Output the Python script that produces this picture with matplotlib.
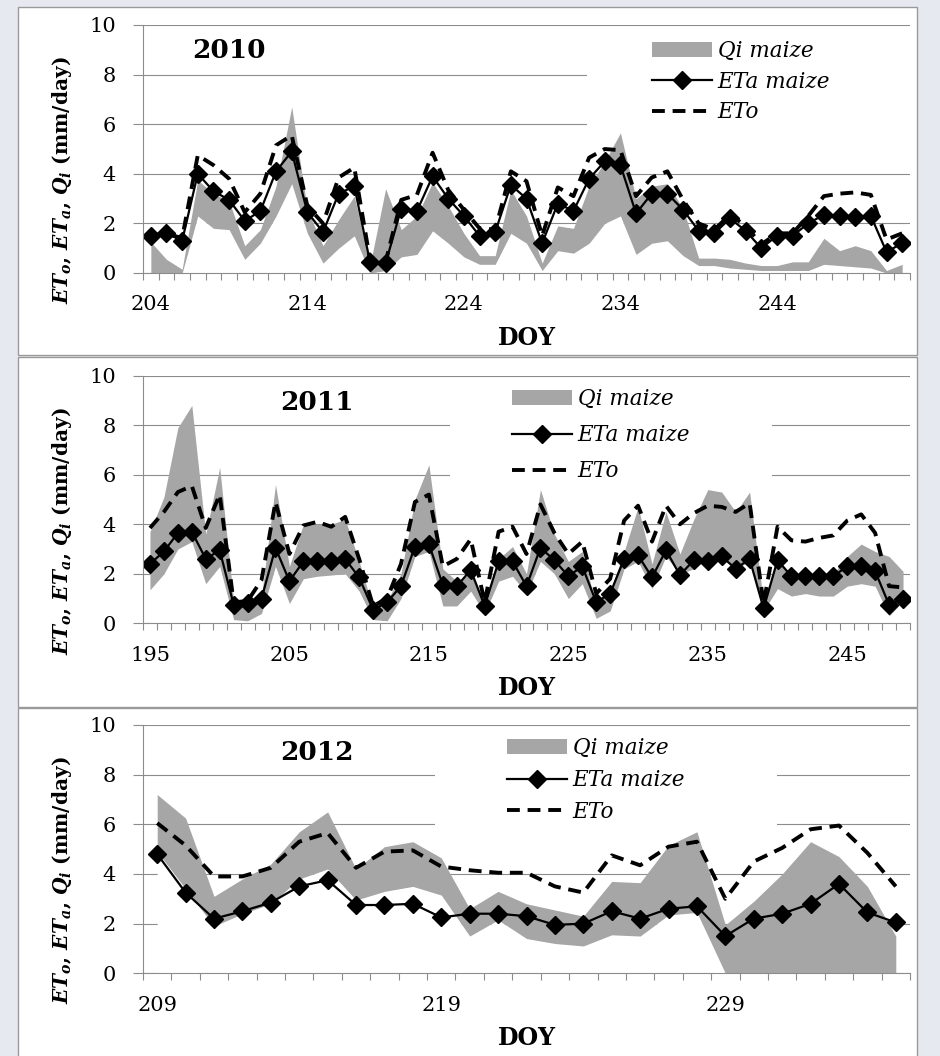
import numpy as np
import matplotlib.pyplot as plt
from matplotlib.patches import Patch, Rectangle
from matplotlib.lines import Line2D

plt.rcParams['font.family'] = 'DejaVu Serif'
plt.rcParams['mathtext.fontset'] = 'custom'
plt.rcParams['mathtext.rm'] = 'DejaVu Serif'
plt.rcParams['mathtext.it'] = 'DejaVu Serif:italic'
plt.rcParams['mathtext.bf'] = 'DejaVu Serif:bold'
plt.rcParams['mathtext.bfit'] = 'DejaVu Serif:italic:bold'

###
# Data, one value per DOY
###

start_2010 = 204
eta_2010 = [1.5, 1.6, 1.3, 4.0, 3.3, 2.95, 2.1, 2.5, 4.1, 4.9, 2.45, 1.65, 3.2, 3.5, 0.45, 0.4,
            2.6, 2.5, 3.9, 3.0, 2.3, 1.5, 1.65, 3.55, 3.0, 1.2, 2.8, 2.5, 3.8, 4.5, 4.35, 2.4,
            3.2, 3.2, 2.55, 1.7, 1.6, 2.2, 1.7, 1.0, 1.5, 1.5, 2.0, 2.35, 2.3, 2.25, 2.3, 0.85, 1.2]
eto_2010 = [1.5, 1.6, 1.4, 4.75, 4.35, 3.8, 2.45, 3.2, 5.15, 5.55, 2.7, 2.0, 3.85, 4.25, 0.55, 0.45,
            2.95, 3.15, 4.85, 3.35, 2.55, 1.8, 1.75, 4.1, 3.7, 1.5, 3.45, 3.1, 4.65, 5.0, 4.95, 3.1,
            3.85, 4.1, 2.95, 2.0, 1.75, 2.35, 1.9, 1.15, 1.6, 1.6, 2.3, 3.1, 3.2, 3.25, 3.15, 1.35, 1.6]
qi_lo_2010 = [0.0, 0.0, 0.0, 2.3, 1.8, 1.75, 0.55, 1.2, 2.3, 3.6, 1.6, 0.4, 1.0, 1.5, 0.0, 0.1,
              0.65, 0.75, 1.7, 1.2, 0.65, 0.35, 0.35, 1.6, 1.2, 0.1, 0.9, 0.8, 1.2, 2.0, 2.3, 0.75,
              1.2, 1.3, 0.7, 0.3, 0.3, 0.2, 0.15, 0.1, 0.1, 0.1, 0.1, 0.35, 0.3, 0.25, 0.2, 0.0, 0.0]
qi_hi_2010 = [1.25, 0.55, 0.15, 3.75, 3.2, 2.9, 1.1, 1.75, 3.5, 6.7, 2.55, 1.1, 2.15, 3.1, 0.3, 3.4,
              1.75, 2.3, 3.65, 2.7, 1.6, 0.7, 0.7, 3.35, 2.3, 0.4, 1.9, 1.8, 3.5, 4.5, 5.65, 3.0,
              3.5, 3.6, 2.6, 0.6, 0.6, 0.55, 0.4, 0.3, 0.3, 0.45, 0.45, 1.4, 0.9, 1.1, 0.9, 0.1, 0.35]

start_2011 = 195
eta_2011 = [2.4, 2.9, 3.65, 3.7, 2.6, 2.95, 0.75, 0.8, 1.0, 3.05, 1.7, 2.5, 2.5, 2.5, 2.6, 1.85,
            0.55, 0.85, 1.5, 3.1, 3.2, 1.55, 1.5, 2.15, 0.7, 2.5, 2.5, 1.5, 3.05, 2.55, 1.9, 2.3,
            0.85, 1.2, 2.6, 2.75, 1.85, 2.95, 1.95, 2.55, 2.5, 2.7, 2.2, 2.6, 0.6, 2.55, 1.9, 1.9,
            1.9, 1.9, 2.3, 2.3, 2.1, 0.75, 1.0]
eto_2011 = [3.85, 4.5, 5.3, 5.55, 3.85, 5.2, 0.85, 0.9, 1.75, 4.9, 2.8, 3.95, 4.1, 3.9, 4.3, 2.6,
            0.7, 1.0, 2.4, 4.9, 5.2, 2.3, 2.6, 3.4, 0.85, 3.7, 3.9, 2.8, 4.8, 3.65, 2.8, 3.3,
            1.2, 1.8, 4.15, 4.75, 3.3, 4.75, 4.0, 4.45, 4.75, 4.7, 4.5, 4.85, 0.8, 3.9, 3.35, 3.3,
            3.45, 3.55, 4.15, 4.4, 3.65, 1.5, 1.45]
qi_lo_2011 = [1.35, 2.0, 3.0, 3.3, 1.6, 2.3, 0.15, 0.1, 0.4, 2.3, 0.8, 1.8, 1.9, 1.95, 2.0, 1.3,
              0.15, 0.1, 1.0, 2.7, 2.9, 0.7, 0.7, 1.3, 0.4, 1.7, 1.9, 1.2, 2.5, 2.0, 1.0, 1.6,
              0.2, 0.5, 2.2, 2.5, 1.4, 2.7, 2.0, 2.2, 2.6, 2.7, 2.2, 2.5, 0.5, 1.4, 1.1, 1.2,
              1.1, 1.1, 1.5, 1.6, 1.5, 0.3, 0.9]
qi_hi_2011 = [3.7, 5.1, 7.9, 8.8, 3.6, 6.3, 0.9, 0.6, 1.1, 5.6, 2.3, 4.0, 4.0, 4.0, 4.2, 2.5,
              0.6, 0.9, 2.0, 5.0, 6.4, 2.2, 1.7, 2.0, 0.9, 2.6, 3.1, 2.0, 5.4, 3.6, 2.5, 2.9,
              0.7, 1.3, 2.9, 4.7, 2.4, 4.5, 2.8, 4.2, 5.4, 5.3, 4.5, 5.3, 0.8, 2.6, 1.9, 1.9,
              1.9, 2.0, 2.7, 3.2, 2.9, 2.7, 2.1]

start_2012 = 209
eta_2012 = [4.8, 3.25, 2.2, 2.5, 2.85, 3.5, 3.75, 2.75, 2.75, 2.8, 2.25, 2.4, 2.4, 2.3, 1.95, 2.0,
            2.5, 2.2, 2.6, 2.7, 1.5, 2.2, 2.4, 2.8, 3.6, 2.45, 2.05]
eto_2012 = [6.05, 5.15, 3.9, 3.9, 4.25, 5.3, 5.65, 4.25, 4.9, 4.95, 4.3, 4.15, 4.05, 4.05, 3.5, 3.25,
            4.75, 4.35, 5.1, 5.3, 3.0, 4.5, 5.05, 5.8, 5.95, 4.85, 3.5]
qi_lo_2012 = [4.9, 3.4, 1.9, 2.4, 2.8, 3.8, 4.2, 2.95, 3.3, 3.5, 3.15, 1.5, 2.15, 1.4, 1.2, 1.1,
              1.55, 1.5, 2.35, 2.45, 0.0, 0.0, 0.0, 0.0, 0.0, 0.0, 0.0]
qi_hi_2012 = [7.2, 6.25, 3.1, 3.8, 4.4, 5.7, 6.5, 4.2, 5.1, 5.3, 4.65, 2.6, 3.3, 2.8, 2.55, 2.3,
              3.7, 3.65, 5.15, 5.7, 1.95, 2.9, 4.0, 5.3, 4.7, 3.5, 1.5]

legend_labels = ['Qi maize', 'ETa maize', 'ETo']
ylabel = r'$\mathbfit{ET_o}$, $\mathbfit{ET_a}$, $\mathbfit{Q_i}$ (mm/day)'

###
# Layout (pixel positions on a 940x1056 canvas)
###

W, H = 940, 1056
GRAY = '#a6a6a6'
AXC = '#8c8c8c'
X0, X1 = 143, 910
MS = 9

panels = [
    dict(year='2010', start=start_2010, eta=eta_2010, eto=eto_2010, lo=qi_lo_2010, hi=qi_hi_2010,
         frame=(18, 7, 917, 355), top=25, bot=273, title=(229, 50),
         leg=(652, 40), spacing=0.40, mask=(587, 28, 910, 140)),
    dict(year='2011', start=start_2011, eta=eta_2011, eto=eto_2011, lo=qi_lo_2011, hi=qi_hi_2011,
         frame=(18, 357, 917, 707), top=375.7, bot=623.3, title=(317, 403),
         leg=(512, 388), spacing=0.66, mask=(450, 378, 772, 500)),
    dict(year='2012', start=start_2012, eta=eta_2012, eto=eto_2012, lo=qi_lo_2012, hi=qi_hi_2012,
         frame=(18, 708, 917, 1060), top=725, bot=973.3, title=(317, 752),
         leg=(507, 737), spacing=0.46, mask=(435, 728, 777, 850)),
]

fig = plt.figure(figsize=(W / 100, H / 100), dpi=100, facecolor='#e6eaf0')

for p in panels:
    fx0, fy0, fx1, fy1 = p['frame']
    fig.add_artist(Rectangle((fx0 / W, 1 - fy1 / H), (fx1 - fx0) / W, (fy1 - fy0) / H,
                             transform=fig.transFigure, facecolor='white', edgecolor='#9a9a9a',
                             lw=1, zorder=-1))

    top, bot = p['top'], p['bot']
    ax = fig.add_axes([X0 / W, 1 - bot / H, (X1 - X0) / W, (bot - top) / H])
    ax.patch.set_alpha(0)

    n = len(p['eta'])
    x = np.arange(n)
    ax.set_xlim(-0.5, n - 0.5)
    ax.set_ylim(0, 10)

    ax.set_axisbelow(True)
    ax.yaxis.grid(True, color=AXC, lw=0.8)

    # white box behind the legend hides the gridlines
    mx0, my0, mx1, my1 = p['mask']
    ax.add_patch(Rectangle(((mx0 - X0) / (X1 - X0), (bot - my1) / (bot - top)),
                           (mx1 - mx0) / (X1 - X0), (my1 - my0) / (bot - top),
                           transform=ax.transAxes, facecolor='white', edgecolor='none',
                           zorder=0.8, clip_on=False))

    # Qi as stacked area: white base, grey range on top
    ax.fill_between(x, 0, p['lo'], color='white', lw=0, zorder=1)
    ax.fill_between(x, p['lo'], p['hi'], color=GRAY, lw=0, zorder=1.1)

    ax.plot(x, p['eta'], color='black', lw=1.6, marker='D', ms=MS, zorder=2)
    ax.plot(x, p['eto'], color='black', lw=2.8, dashes=(3.3, 2.0), zorder=2.1)

    ax.set_xticks(np.arange(0, n, 10))
    ax.set_xticklabels([str(p['start'] + k) for k in range(0, n, 10)])
    ax.set_xticks(np.arange(n + 1) - 0.5, minor=True)
    ax.tick_params(axis='x', which='major', length=0, pad=16, labelsize=15)
    ax.tick_params(axis='x', which='minor', length=5, width=0.8, color=AXC)
    ax.set_yticks(range(0, 11, 2))
    ax.tick_params(axis='y', length=7.5, width=0.8, color=AXC, pad=12, labelsize=15)

    for side in ['top', 'right']:
        ax.spines[side].set_visible(False)
    for side in ['left', 'bottom']:
        ax.spines[side].set_color(AXC)
        ax.spines[side].set_linewidth(0.8)

    handles = [Patch(facecolor=GRAY, edgecolor='none'),
               Line2D([], [], color='black', lw=1.6, marker='D', ms=MS),
               Line2D([], [], color='black', lw=2.8, dashes=(3.3, 2.0))]
    lx, ly = p['leg']
    ax.legend(handles, legend_labels, loc='upper left', bbox_to_anchor=(lx / W, 1 - ly / H),
              bbox_transform=fig.transFigure, frameon=False, borderpad=0, borderaxespad=0,
              handlelength=2.8, handleheight=0.65, handletextpad=0.25,
              labelspacing=p['spacing'], prop=dict(family='DejaVu Serif', style='italic', size=15.5))

    tx, ty = p['title']
    fig.text(tx / W, 1 - ty / H, p['year'], ha='center', va='center', fontsize=19, fontweight='bold')
    fig.text((X0 + X1) / 2 / W, 1 - (bot + 65) / H, 'DOY', ha='center', va='center',
             fontsize=17, fontweight='bold')
    fig.text(62 / W, 1 - (top + 155) / H, ylabel, rotation=90, ha='center', va='center',
             fontsize=14.5, fontweight='bold')

fig.savefig('out.png', dpi=100, facecolor=fig.get_facecolor())
